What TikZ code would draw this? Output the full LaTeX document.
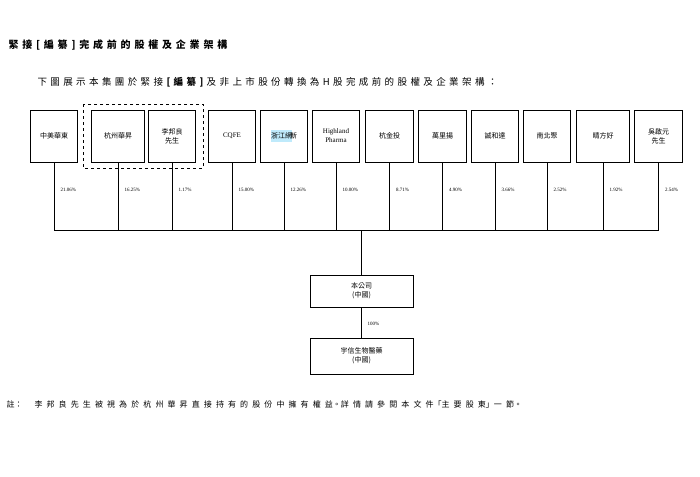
\documentclass[tikz,border=0pt]{standalone}
\usepackage{fontspec}
\newfontfamily\cjk{Noto Sans CJK TC}
\setmainfont{Liberation Serif}
\newcommand\gA{\hspace{3.8pt}}
\newcommand\gB{\hspace{3.4pt}}
\newcommand\gC{\hspace{4.1pt}}
\begin{document}
\begin{tikzpicture}[x=1pt,y=-1pt,
  holder/.style={draw,thick,minimum height=52pt,align=center,font=\cjk\fontsize{7}{9}\selectfont,inner sep=1pt},
  pct/.style={font=\fontsize{5}{6}\selectfont,anchor=west},
  ln/.style={thin}]
\useasboundingbox (0,0) rectangle (700,476);
\node[anchor=west,font=\cjk\bfseries\fontsize{10}{12}\selectfont] (title) at (5,45) {緊\gA 接\gA [\gA 編\gA 纂\gA ]\gA 完\gA 成\gA 前\gA 的\gA 股\gA 權\gA 及\gA 企\gA 業\gA 架\gA 構};
\node[anchor=west,font=\cjk\fontsize{9.5}{12}\selectfont] (sub) at (34,82) {下\gB 圖\gB 展\gB 示\gB 本\gB 集\gB 團\gB 於\gB 緊\gB 接\gB \textbf{[\gB 編\gB 纂\gB ]}\gB 及\gB 非\gB 上\gB 市\gB 股\gB 份\gB 轉\gB 換\gB 為\gB H\gB 股\gB 完\gB 成\gB 前\gB 的\gB 股\gB 權\gB 及\gB 企\gB 業\gB 架\gB 構\gB ：};
\draw[dashed,thick] (83,104) rectangle (203,168);
\foreach \n/\xa/\xb/\t/\p in {
 a/30/78/中美華東/21.06\%, b/91/145/杭州華昇/16.25\%, c/148/196/李邦良\\先生/1.17\%,
 d/208/256/{\fontspec{Liberation Serif}CQFE}/15.00\%, e/260/308/{\colorbox{cyan!25}{\hspace{-3pt}浙江網\hspace{-3pt}}}\hspace{-2pt}新/12.26\%,
 f/312/360/{\fontspec{Liberation Serif}Highland\\\fontspec{Liberation Serif}Pharma}/10.00\%, g/365/414/杭金投/8.71\%,
 h/418/467/萬里揚/4.90\%, i/471/519/誠和達/3.66\%, j/523/571/南北聚/2.52\%,
 k/576/630/晴方好/1.92\%, l/634/683/吳啟元\\先生/2.54\%} {
  \node[holder,minimum width={\xb-\xa-1}] (\n) at ({(\xa+\xb)/2},136) {\t};
  \coordinate (\n j) at ({(\xa+\xb)/2},230);
  \draw[ln] (\n.south) -- (\n j);
  \node[pct] at ({(\xa+\xb)/2+3},190) {\p};
}
\draw[ln] (aj) -- (lj);
\node[holder,minimum width=103pt,minimum height=32pt] (co) at (361.5,291) {本公司\\(中國)};
\node[holder,minimum width=103pt,minimum height=36pt] (sub2) at (361.5,356) {宇信生物醫藥\\(中國)};
\coordinate (cj) at (361.5,230);
\draw[ln] (cj) -- (co.north);
\draw[ln] (co.south) -- (sub2.north);
\node[pct] at (364,324) {100\%};
\node[anchor=west,font=\cjk\fontsize{8}{10}\selectfont] (note) at (3,404) {\textit{註：}\hspace{12pt}李\gC 邦\gC 良\gC 先\gC 生\gC 被\gC 視\gC 為\gC 於\gC 杭\gC 州\gC 華\gC 昇\gC 直\gC 接\gC 持\gC 有\gC 的\gC 股\gC 份\gC 中\gC 擁\gC 有\gC 權\gC 益。詳\gC 情\gC 請\gC 參\gC 閱\gC 本\gC 文\gC 件「主\gC 要\gC 股\gC 東」一\gC 節。};
\end{tikzpicture}
\end{document}
